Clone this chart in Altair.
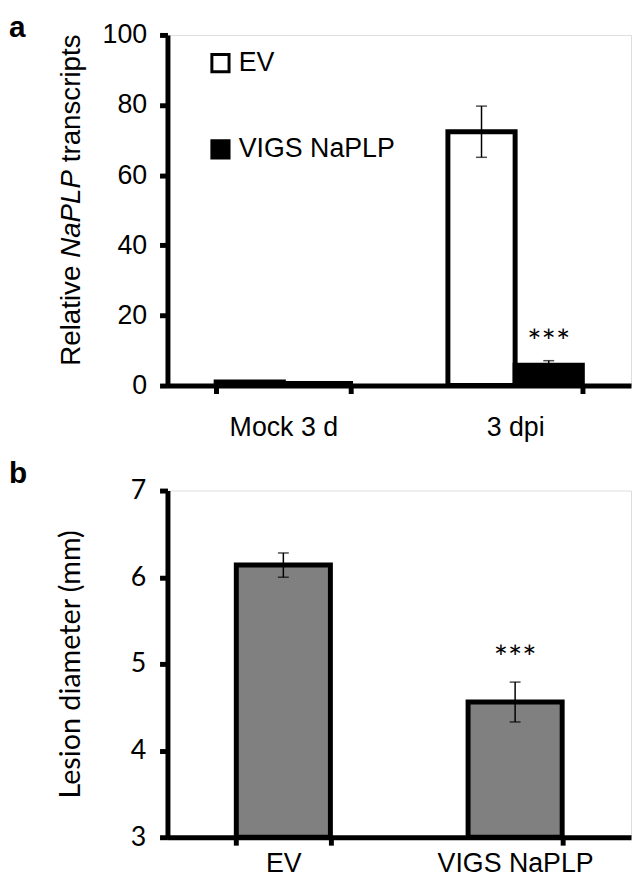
import altair as alt
import pandas as pd

# ---------------- data ----------------
# Panel a: relative NaPLP transcripts
a_categories = ["Mock 3 d", "3 dpi"]
a_groups = ["EV", "VIGS NaPLP"]
a_ev = [1.0, 72.4]
a_ev_err = [0.2, 7.3]
a_vigs = [0.6, 5.8]
a_vigs_err = [0.1, 1.3]
a_sig_text = ["", "***"]
a_sig_pos = [0.0, 12.0]

# Panel b: lesion diameter (mm)
b_categories = ["EV", "VIGS NaPLP"]
b_values = [6.14, 4.56]
b_err = [0.14, 0.23]
b_sig_text = ["", "***"]
b_sig_pos = [0.0, 5.05]

ARIAL = "Liberation Sans"
CALIBRI = "Lato"

rows = []
for i, c in enumerate(a_categories):
    rows.append({"category": c, "group": a_groups[0], "value": a_ev[i], "err": a_ev_err[i],
                 "sig": "", "sigpos": 0.0})
    rows.append({"category": c, "group": a_groups[1], "value": a_vigs[i], "err": a_vigs_err[i],
                 "sig": a_sig_text[i], "sigpos": a_sig_pos[i]})
df_a = pd.DataFrame(rows)
df_a["lo"] = df_a["value"] - df_a["err"]
df_a["hi"] = df_a["value"] + df_a["err"]

df_b = pd.DataFrame({"category": b_categories, "value": b_values, "err": b_err,
                     "sig": b_sig_text, "sigpos": b_sig_pos})
df_b["lo"] = df_b["value"] - df_b["err"]
df_b["hi"] = df_b["value"] + df_b["err"]

one = pd.DataFrame({"k": [0]})

W = 468
FS = 27

# ---------------- panel a ----------------
xa = alt.X("category:N", sort=a_categories,
           scale=alt.Scale(paddingInner=0.42, paddingOuter=0.21),
           axis=alt.Axis(title=None, tickBand="extent", labelAngle=0, labelFont=ARIAL,
                         labelFontSize=FS, labelColor="black", labelPadding=21,
                         tickSize=8, tickWidth=5, tickColor="black",
                         domainColor="black", domainWidth=5))
xo = alt.XOffset("group:N", sort=a_groups, scale=alt.Scale(paddingInner=0, paddingOuter=0))
ya_scale = alt.Scale(domain=[0, 100], nice=False)
ya = alt.Y("value:Q", scale=ya_scale,
           axis=alt.Axis(title=None, values=[0, 20, 40, 60, 80, 100], grid=False,
                         labelFont=ARIAL, labelFontSize=FS, labelColor="black", labelPadding=13,
                         tickSize=8, tickWidth=5, tickColor="black",
                         domainColor="black", domainWidth=5))

base_a = alt.Chart(df_a)
bars_a = base_a.mark_bar(stroke="black", strokeWidth=5, strokeJoin="miter").encode(
    x=xa, xOffset=xo, y=ya,
    fill=alt.Fill("group:N", sort=a_groups,
                  scale=alt.Scale(domain=a_groups, range=["white", "black"]),
                  legend=alt.Legend(title=None, orient="none", legendX=40, legendY=15,
                                    symbolType="square", symbolSize=300,
                                    symbolStrokeColor="black", symbolStrokeWidth=3,
                                    labelFont=ARIAL, labelFontSize=FS, labelColor="black",
                                    rowPadding=56, padding=0, labelOffset=5)))
err_a = base_a.mark_rule(color="black", strokeWidth=1.5).encode(
    x=xa, xOffset=xo, y=alt.Y("lo:Q", scale=ya_scale), y2="hi:Q")
cap_lo_a = base_a.mark_tick(color="black", thickness=1.5, size=11).encode(
    x=xa, xOffset=xo, y=alt.Y("lo:Q", scale=ya_scale))
cap_hi_a = base_a.mark_tick(color="black", thickness=1.5, size=11).encode(
    x=xa, xOffset=xo, y=alt.Y("hi:Q", scale=ya_scale))
sig_a = base_a.transform_filter("datum.sig != ''").mark_text(
    font=CALIBRI, fontSize=34, color="black", baseline="middle").encode(
    x=xa, xOffset=xo, y=alt.Y("sigpos:Q", scale=ya_scale), text="sig:N")

TF = 28
GAP = 7.8
Y0 = 334
W_REL = 3.612 * TF
W_NA = 3.168 * TF
title_a1 = alt.Chart(one).mark_text(text="Relative", font=ARIAL, fontSize=TF, angle=270,
                                    align="left", baseline="middle", color="black").encode(
    x=alt.value(-96), y=alt.value(Y0))
title_a2 = alt.Chart(one).mark_text(text="NaPLP", font=ARIAL, fontSize=TF, fontStyle="italic",
                                    angle=270, align="left", baseline="middle",
                                    color="black").encode(
    x=alt.value(-96), y=alt.value(Y0 - W_REL - GAP))
title_a3 = alt.Chart(one).mark_text(text="transcripts", font=ARIAL, fontSize=TF, angle=270,
                                    align="left", baseline="middle", color="black").encode(
    x=alt.value(-96), y=alt.value(Y0 - W_REL - GAP - W_NA - GAP))
label_a = alt.Chart(one).mark_text(text="a", font=ARIAL, fontSize=30, fontWeight="bold",
                                   align="left", baseline="top", color="black").encode(
    x=alt.value(-160), y=alt.value(-22))

panel_a = alt.layer(bars_a, err_a, cap_lo_a, cap_hi_a, sig_a,
                    title_a1, title_a2, title_a3, label_a).properties(width=W, height=354)

# ---------------- panel b ----------------
xb = alt.X("category:N", sort=b_categories,
           scale=alt.Scale(paddingInner=0.594, paddingOuter=0.297),
           axis=alt.Axis(title=None, tickBand="extent", labelAngle=0, labelFont=ARIAL,
                         labelFontSize=27, labelColor="black", labelPadding=6,
                         tickSize=8, tickWidth=5, tickColor="black",
                         domainColor="black", domainWidth=5))
yb_scale = alt.Scale(domain=[3, 7], nice=False, zero=False)
yb = alt.Y("value:Q", scale=yb_scale,
           axis=alt.Axis(title="Lesion diameter (mm)", values=[3, 4, 5, 6, 7], format="d",
                         grid=False,
                         labelFont=CALIBRI, labelFontSize=27, labelColor="black", labelPadding=14,
                         titleFont=CALIBRI, titleFontSize=29, titleFontWeight="normal",
                         titleColor="black", titlePadding=45,
                         tickSize=8, tickWidth=5, tickColor="black",
                         domainColor="black", domainWidth=5))
base_b = alt.Chart(df_b)
bars_b = base_b.mark_bar(fill="#808080", stroke="black", strokeWidth=5, strokeJoin="miter").encode(
    x=xb, y=yb, y2=alt.Y2(datum=3))
err_b = base_b.mark_rule(color="black", strokeWidth=1.5).encode(
    x=xb, y=alt.Y("lo:Q", scale=yb_scale), y2="hi:Q")
cap_lo_b = base_b.mark_tick(color="black", thickness=1.5, size=11).encode(
    x=xb, y=alt.Y("lo:Q", scale=yb_scale))
cap_hi_b = base_b.mark_tick(color="black", thickness=1.5, size=11).encode(
    x=xb, y=alt.Y("hi:Q", scale=yb_scale))
sig_b = base_b.transform_filter("datum.sig != ''").mark_text(
    font=CALIBRI, fontSize=34, color="black", baseline="middle").encode(
    x=xb, y=alt.Y("sigpos:Q", scale=yb_scale), text="sig:N")
label_b = alt.Chart(one).mark_text(text="b", font=ARIAL, fontSize=30, fontWeight="bold",
                                   align="left", baseline="top", color="black").encode(
    x=alt.value(-160), y=alt.value(-32))

panel_b = alt.layer(bars_b, err_b, cap_lo_b, cap_hi_b, sig_b, label_b).properties(
    width=W, height=350)

chart = alt.vconcat(panel_a, panel_b, spacing=17).properties(padding=0).configure_view(
    stroke=None).configure(background="white")

chart.save("out.html", embed_options={"renderer": "svg", "actions": False})
